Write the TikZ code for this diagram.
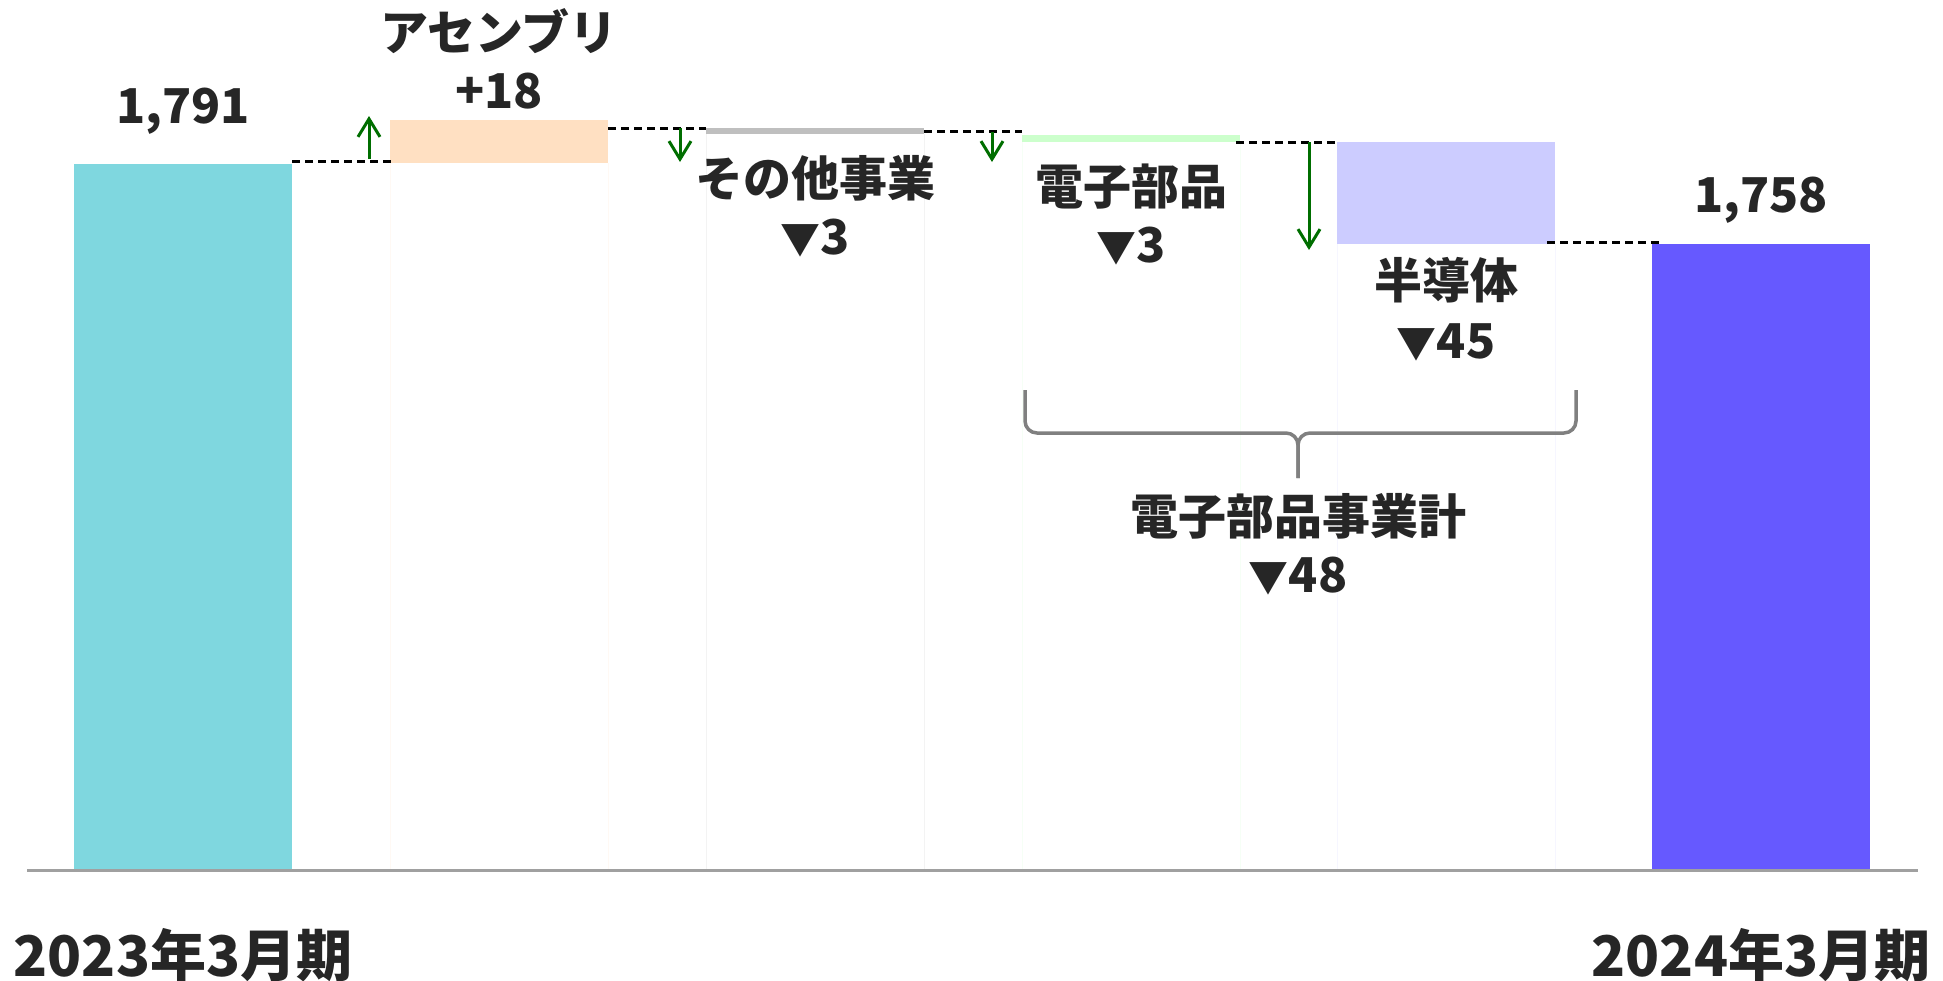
\documentclass[tikz,border=0pt]{standalone}
\usepackage{fontspec}
\setmainfont{Noto Sans CJK JP}
\usetikzlibrary{positioning,arrows.meta}

\definecolor{fycyan}{HTML}{7FD7DF}
\definecolor{asmfill}{HTML}{FFE0C2}
\definecolor{othfill}{HTML}{BFBFBF}
\definecolor{elefill}{HTML}{CCFFCC}
\definecolor{semifill}{HTML}{CCCCFF}
\definecolor{fyblue}{HTML}{6659FF}
\definecolor{txtdark}{HTML}{262626}
\definecolor{chggreen}{HTML}{006E00}
\definecolor{bracegray}{HTML}{808080}
\definecolor{axisgray}{HTML}{A0A0A0}

\newcommand{\dn}{{\fontsize{40}{40}\selectfont ▼}}

\tikzset{
  bar/.style={anchor=north west, inner sep=0pt, outer sep=0pt, minimum width=218pt},
  lbl/.style={font=\bfseries\fontsize{48}{48}\selectfont, text=txtdark, inner sep=0pt, text height=35pt, text depth=0pt},
  yr/.style={font=\bfseries\fontsize{56}{56}\selectfont, text=txtdark, inner sep=0pt, text height=41pt, text depth=0pt},
  lvl/.style={black, dash pattern=on 8pt off 5pt, line width=3pt},
  chg/.style={-{Straight Barb[length=18pt,width=22pt,line width=3pt]}, draw=chggreen, line width=3pt},
  brc/.style={draw=bracegray, line width=3.5pt, rounded corners=12pt},
}

\begin{document}
\begin{tikzpicture}[x=1pt,y=-1pt]
  \useasboundingbox (0,0) rectangle (1943,980);

  \coordinate (axl) at (27,870);
  \coordinate (axr) at (1918,870);

  % bars
  \node (b1) [bar, fill=fycyan, minimum height=706pt] at (74,164) {};
  \node (b2) [bar, fill=asmfill, minimum height=43pt] at (390,120) {};
  \node (b3) [bar, fill=othfill, minimum height=6pt] at (706,128) {};
  \node (b4) [bar, fill=elefill, minimum height=7pt] at (1022,135) {};
  \node (b5) [bar, fill=semifill, minimum height=102pt] at (1337,142) {};
  \node (b6) [bar, fill=fyblue, minimum height=626pt] at (1652,244) {};

  \foreach \b/\c in {b2/asmfill, b3/othfill, b4/elefill, b5/semifill}
    \draw[draw=\c!18, line width=1pt] (\b.south west) -- (\b.south west |- axl)
      (\b.south east) -- (\b.south east |- axl);

  \draw[draw=axisgray, line width=3pt] (axl) -- (axr);

  % level lines
  \draw[lvl] ([yshift=3pt]b1.north east) -- ([yshift=3pt,xshift=4pt]b1.north east -| b2.west);
  \draw[lvl] (b2.north east |- b3.north) -- (b3.north west);
  \draw[lvl] (b3.east) -- (b3.east -| b4.west);
  \draw[lvl] ([xshift=-4pt]b4.south east) -- (b5.north west);
  \draw[lvl] ([yshift=2pt,xshift=-8pt]b5.south east) -- ([yshift=2pt,xshift=10pt]b5.south east -| b6.west);

  % changes
  \draw[chg] ([xshift=-21pt,yshift=4pt]b2.south west) -- ([xshift=-21pt,yshift=4pt]b2.north west);
  \draw[chg] ([xshift=-26pt]b3.north west) -- ++(0,34);
  \draw[chg] ([xshift=-30pt,yshift=3pt]b4.north west) -- ++(0,30);
  \draw[chg] ([xshift=-28pt]b5.north west) -- ([xshift=-28pt,yshift=-6pt]b5.south west);

  % brace
  \coordinate (brl) at (1025,390);
  \coordinate (brr) at (1576,390);
  \coordinate (brmid) at (1298,433);
  \coordinate (brtip) at (1298,478);
  \draw[brc] (brl) |- (brmid) -- (brtip);
  \draw[brc] (brr) |- (brmid) -- (brtip);

  % labels
  \node (l1) [lbl, above=40pt of b1] {1,791};
  \node (l2) [lbl, above=11pt of b2] {+18};
  \node (l3) [lbl, above=23pt of l2] {アセンブリ};
  \node (l4) [lbl, below=27pt of b3] {その他事業};
  \node (l5) [lbl, below=23pt of l4] {\dn3};
  \node (l6) [lbl, below=27pt of b4] {電子部品};
  \node (l7) [lbl, below=23pt of l6] {\dn3};
  \node (l8) [lbl, below=19pt of b5] {半導体};
  \node (l9) [lbl, below=25pt of l8] {\dn45};
  \node (l10) [lbl, above=31pt of b6] {1,758};
  \node (l11) [lbl, below=21pt of brtip] {電子部品事業計};
  \node (l12) [lbl, below=23pt of l11] {\dn48};
  \node (l13) [yr, below=65pt of b1] {2023年3月期};
  \node (l14) [yr, below=65pt of b6] {2024年3月期};
\end{tikzpicture}
\end{document}
